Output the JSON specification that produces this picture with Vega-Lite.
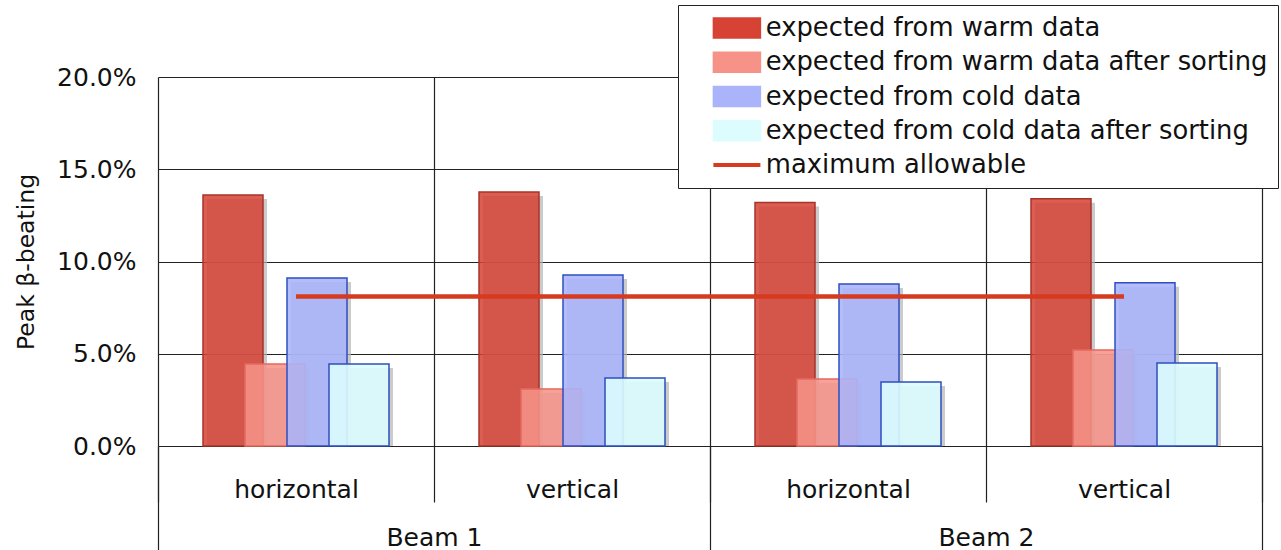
{
  "$schema": "https://vega.github.io/schema/vega-lite/v6.json",
  "width": 1104,
  "height": 369,
  "autosize": {"type": "none"},
  "padding": {"left": 158, "top": 77, "right": 19, "bottom": 104},
  "background": "white",
  "config": {"view": {"stroke": null}, "font": "DejaVu Sans"},
  "datasets": {
    "bars": [
      {"group": "Beam 1 horizontal", "series": "expected from warm data", "value": 0.136},
      {"group": "Beam 1 horizontal", "series": "expected from warm data after sorting", "value": 0.0444},
      {"group": "Beam 1 horizontal", "series": "expected from cold data", "value": 0.091},
      {"group": "Beam 1 horizontal", "series": "expected from cold data after sorting", "value": 0.0444},
      {"group": "Beam 1 vertical", "series": "expected from warm data", "value": 0.1377},
      {"group": "Beam 1 vertical", "series": "expected from warm data after sorting", "value": 0.0309},
      {"group": "Beam 1 vertical", "series": "expected from cold data", "value": 0.0927},
      {"group": "Beam 1 vertical", "series": "expected from cold data after sorting", "value": 0.0369},
      {"group": "Beam 2 horizontal", "series": "expected from warm data", "value": 0.132},
      {"group": "Beam 2 horizontal", "series": "expected from warm data after sorting", "value": 0.0363},
      {"group": "Beam 2 horizontal", "series": "expected from cold data", "value": 0.0878},
      {"group": "Beam 2 horizontal", "series": "expected from cold data after sorting", "value": 0.0347},
      {"group": "Beam 2 vertical", "series": "expected from warm data", "value": 0.134},
      {"group": "Beam 2 vertical", "series": "expected from warm data after sorting", "value": 0.052},
      {"group": "Beam 2 vertical", "series": "expected from cold data", "value": 0.0885},
      {"group": "Beam 2 vertical", "series": "expected from cold data after sorting", "value": 0.045}
    ],
    "limit": [
      {"group": "Beam 1 horizontal", "limit": 0.081},
      {"group": "Beam 1 vertical", "limit": 0.081},
      {"group": "Beam 2 horizontal", "limit": 0.081},
      {"group": "Beam 2 vertical", "limit": 0.081}
    ],
    "beams": [
      {"beam": "Beam 1"},
      {"beam": "Beam 2"}
    ]
  },
  "layer": [
    {
      "data": {"name": "bars"},
      "mark": {"type": "bar", "width": 60, "yOffset": 4, "color": "#b5b5b5", "opacity": 0.7, "clip": true},
      "encoding": {
        "x": {"field": "group", "type": "nominal", "sort": null, "scale": {"paddingInner": 0, "paddingOuter": 0}, "axis": null},
        "xOffset": {"field": "series", "type": "nominal", "sort": null, "scale": {"paddingInner": 0, "paddingOuter": 0, "range": [58, 226]}},
        "y": {"field": "value", "type": "quantitative"}
      }
    },
    {
      "data": {"name": "bars"},
      "mark": {"type": "bar", "width": 60, "strokeWidth": 1.5},
      "encoding": {
        "x": {
          "field": "group", "type": "nominal", "sort": null,
          "scale": {"paddingInner": 0, "paddingOuter": 0},
          "axis": {
            "orient": "bottom", "title": null, "domain": false,
            "grid": true, "gridColor": "#222", "gridWidth": 1.2,
            "tickBand": "extent", "tickSize": 56, "tickColor": "#222", "tickWidth": 1.2,
            "labelFontSize": 25, "labelPadding": -25, "labelAngle": 0, "labelColor": "#111",
            "labelExpr": "split(datum.label, ' ')[2]"
          }
        },
        "xOffset": {"field": "series", "type": "nominal", "sort": null, "scale": {"paddingInner": 0, "paddingOuter": 0, "range": [54, 222]}},
        "y": {
          "field": "value", "type": "quantitative",
          "scale": {"domain": [0, 0.2], "nice": false},
          "axis": {
            "values": [0, 0.05, 0.1, 0.15, 0.2], "format": ".1%",
            "grid": true, "gridColor": "#222", "gridWidth": 1.2,
            "ticks": false, "domain": false,
            "labelFontSize": 25, "labelPadding": 22, "labelColor": "#111",
            "title": "Peak β-beating", "titleFontSize": 23.5, "titleFontWeight": "normal",
            "titlePadding": 18, "titleColor": "#111"
          }
        },
        "color": {
          "field": "series", "type": "nominal",
          "scale": {
            "domain": ["expected from warm data", "expected from warm data after sorting", "expected from cold data", "expected from cold data after sorting", "maximum allowable"],
            "range": ["#d64234", "#f69288", "#aab4fa", "#dcfcfe", "#d63a1f"]
          },
          "legend": {
            "title": null, "orient": "none", "legendX": 520, "legendY": -72,
            "fillColor": "white", "strokeColor": "#222", "padding": 10,
            "symbolSize": 552, "symbolOffset": 36, "labelOffset": 16, "rowPadding": 7.3,
            "symbolStrokeWidth": 1.5,
            "labelFontSize": 25.8, "labelColor": "#111", "labelLimit": 700,
            "encode": {
              "symbols": {
                "update": {
                  "shape": {"signal": "datum.value === 'maximum allowable' ? 'M-2,0H2' : 'M-2,-0.85H2V0.85H-2Z'"},
                  "fill": {"signal": "datum.value === 'expected from warm data' ? '#d4574b' : datum.value === 'expected from warm data after sorting' ? '#f2988f' : datum.value === 'expected from cold data' ? '#b1b9f1' : datum.value === 'expected from cold data after sorting' ? '#dcfcfe' : 'transparent'"},
                  "stroke": {"signal": "datum.value === 'expected from warm data' ? '#a5342a' : datum.value === 'expected from warm data after sorting' ? '#e46a5e' : datum.value === 'maximum allowable' ? '#d63a1f' : '#2f4fbf'"},
                  "strokeWidth": {"signal": "datum.value === 'maximum allowable' ? 4 : 1.5"},
                  "opacity": {"value": 1}
                }
              }
            }
          }
        },
        "fillOpacity": {
          "field": "series", "type": "nominal",
          "scale": {
            "domain": ["expected from warm data", "expected from warm data after sorting", "expected from cold data", "expected from cold data after sorting"],
            "range": [0.85, 0.9, 0.8, 1]
          },
          "legend": null
        },
        "stroke": {
          "field": "series", "type": "nominal",
          "scale": {
            "domain": ["expected from warm data", "expected from warm data after sorting", "expected from cold data", "expected from cold data after sorting"],
            "range": ["#a5342a", "#e46a5e", "#2f4fbf", "#2f4fbf"]
          },
          "legend": null
        }
      }
    },
    {
      "data": {"name": "limit"},
      "mark": {"type": "line", "strokeWidth": 4.5, "strokeCap": "butt"},
      "encoding": {
        "x": {"field": "group", "type": "nominal", "sort": null, "scale": {"paddingInner": 0, "paddingOuter": 0}, "axis": null},
        "y": {"field": "limit", "type": "quantitative"},
        "color": {"datum": "maximum allowable"}
      }
    },
    {
      "data": {"name": "beams"},
      "mark": {"type": "point", "opacity": 0},
      "encoding": {
        "x": {
          "field": "beam", "type": "nominal", "sort": null,
          "scale": {"paddingInner": 0, "paddingOuter": 0},
          "axis": {
            "orient": "bottom", "title": null, "domain": false, "grid": false,
            "tickBand": "extent", "tickSize": 104, "tickColor": "#222", "tickWidth": 1.2,
            "labelFontSize": 25, "labelPadding": -25, "labelAngle": 0, "labelColor": "#111"
          }
        }
      }
    }
  ],
  "resolve": {"scale": {"x": "independent", "xOffset": "independent"}, "axis": {"x": "independent"}}
}
